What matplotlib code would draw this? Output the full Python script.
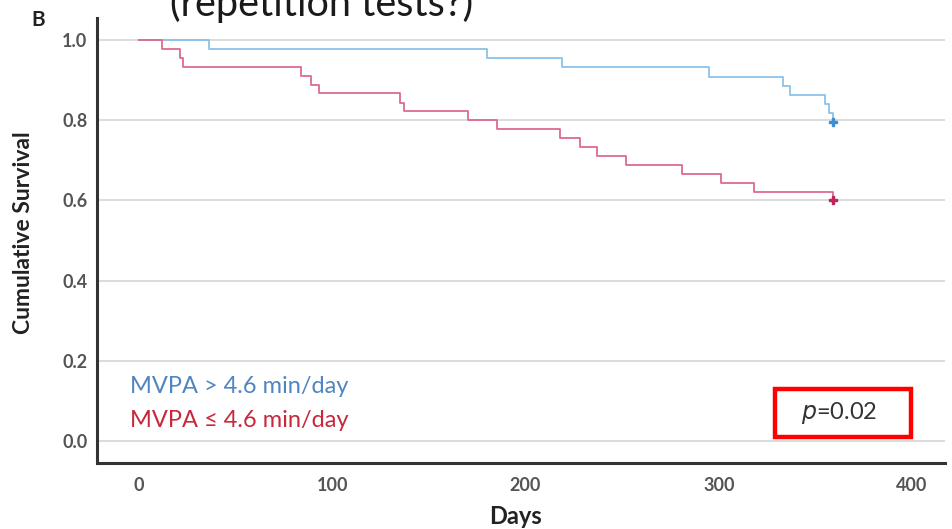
import matplotlib
matplotlib.use("Agg")
import matplotlib.pyplot as plt
from matplotlib.patches import Rectangle

# ── Data ──────────────────────────────────────────────────────────────────────
high_days = [0, 36, 180, 219, 295, 333, 337, 355, 357, 359]
high_surv = [1.0, 0.977, 0.955, 0.932, 0.909, 0.886, 0.864, 0.841, 0.818, 0.796]

low_days = [0, 12, 21, 23, 84, 89, 93, 135, 137, 170, 185, 218, 228, 237, 252,
            281, 301, 318, 359]
low_surv = [1.0, 0.978, 0.956, 0.933, 0.911, 0.889, 0.867, 0.844, 0.822, 0.800,
            0.778, 0.756, 0.733, 0.711, 0.689, 0.667, 0.644, 0.622, 0.600]

x_ticks = [0, 100, 200, 300, 400]
y_ticks = [0.0, 0.2, 0.4, 0.6, 0.8, 1.0]

label_high = "MVPA > 4.6 min/day"
label_low = "MVPA \u2264 4.6 min/day"
p_text = "$\\mathit{p}$=0.02"

BLUE_LINE, BLUE_TEXT = "#8cc2e8", "#4f86c0"
RED_LINE, RED_TEXT = "#dd6b8c", "#c8283c"

plt.rcParams["font.family"] = ["Lato", "DejaVu Sans"]

fig = plt.figure(figsize=(9.53, 5.29), dpi=100)
ax = fig.add_axes([0.1018, 0.1248, 0.8898, 0.8412])

# grid lines at every y tick
for y in y_ticks:
    ax.axhline(y, color="#d9d9d9", linewidth=1.3, zorder=0)

ax.step(high_days, high_surv, where="post", color=BLUE_LINE, linewidth=1.3)
ax.step(low_days, low_surv, where="post", color=RED_LINE, linewidth=1.3)
ax.plot(high_days[-1], high_surv[-1], marker="P", color="#3d8fd0", markersize=6)
ax.plot(low_days[-1], low_surv[-1], marker="P", color="#c0245a", markersize=6)

ax.set_xlim(-21.7, 417)
ax.set_ylim(-0.055, 1.055)
ax.set_xticks(x_ticks)
ax.set_yticks(y_ticks)
ax.set_yticklabels([f"{v:.1f}" for v in y_ticks])
ax.tick_params(length=0, labelsize=13, labelcolor="#555555")
ax.tick_params(axis="y", pad=7)
ax.tick_params(axis="x", pad=10)
for lab in ax.get_xticklabels() + ax.get_yticklabels():
    lab.set_fontweight("bold")

for side in ("top", "right"):
    ax.spines[side].set_visible(False)
for side in ("left", "bottom"):
    ax.spines[side].set_color("#333333")
    ax.spines[side].set_linewidth(2.2)

# legend-like coloured text
ax.text(-4.5, 0.135, label_high, color=BLUE_TEXT, fontsize=17, va="center")
ax.text(-4.5, 0.052, label_low, color=RED_TEXT, fontsize=17, va="center")

# p-value with red box
ax.text(362, 0.07, p_text, color="#333333", fontsize=17, ha="center", va="center")
box = Rectangle((329, 0.01), 70.5, 0.12, fill=False, edgecolor="#ff0000",
                linewidth=3.2, zorder=5)
ax.add_patch(box)

fig.text(24 / 953, 1 - 233 / 529, "Cumulative Survival", rotation=90,
         fontsize=16.5, fontweight="bold", color="#222222", ha="center", va="center")
fig.text(516 / 953, 1 - 516 / 529, "Days", fontsize=17, fontweight="bold",
         color="#222222", ha="center", va="center")
fig.text(38.5 / 953, 1 - 19.5 / 529, "B", fontsize=15, fontweight="bold",
         color="#222222", ha="center", va="center")
fig.text(170 / 953, 1 - 16 / 529, "(repetition tests?)", fontsize=28.5,
         color="#1a1a1a", ha="left", va="baseline")

fig.savefig("out.png", dpi=100)
plt.close(fig)
